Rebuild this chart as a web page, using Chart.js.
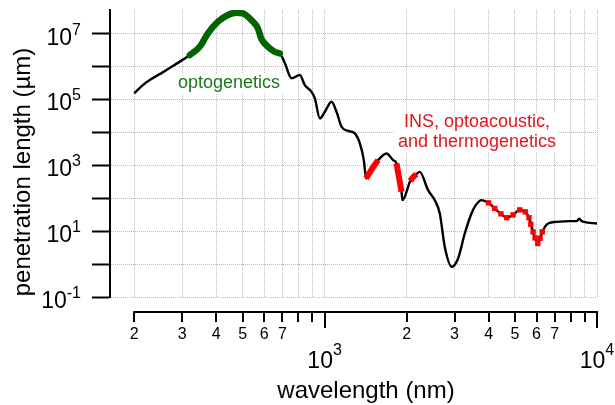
<!DOCTYPE html>
<html>
<head>
<meta charset="utf-8">
<script src="https://cdn.jsdelivr.net/npm/chart.js@4/dist/chart.umd.min.js"></script>
<style>
  html, body { margin: 0; padding: 0; background: #ffffff; }
  canvas { display: block; }
</style>
</head>
<body>
<canvas id="chart" width="615" height="405"></canvas>
<script>
// ---------------- data ----------------
const wavelengthNm = [
  200, 213, 228, 251, 281, 320, 348, 373, 406, 442, 474, 501, 538, 569, 585, 610, 655, 685,
  715, 756, 811, 846, 895, 921, 961, 1002, 1060, 1106, 1154, 1220, 1291, 1347, 1393, 1420,
  1491, 1572, 1688, 1785, 1837, 1916, 1932, 2063, 2110, 2172, 2236, 2398, 2538, 2648, 2762,
  2931, 3090, 3270, 3461, 3589, 3766, 3996, 4214, 4440, 4664, 4918, 5205, 5453, 5627, 5713,
  5825, 5925, 6061, 6180, 6295, 6612, 7099, 7943, 8427, 8605, 8790, 10000
];
const penetrationUm = [
  1.51e5, 2.51e5, 3.82e5, 6.10e5, 1.09e6, 2.19e6, 3.92e6, 1.0e7, 2.25e7, 3.60e7, 4.23e7, 4.05e7,
  2.54e7, 1.42e7, 7.05e6, 4.42e6, 2.76e6, 2.47e6, 1.23e6, 4.30e5, 5.42e5, 2.69e5, 1.69e5, 1.06e5,
  2.62e4, 4.16e4, 8.38e4, 4.16e4, 1.46e4, 1.10e4, 9.18e3, 4.57e3, 1.42e3, 398, 757, 1.42e3,
  2.27e3, 1.42e3, 1.13e3, 155, 86.7, 330, 427, 533, 627, 174, 86.7, 34.2, 3.31, 0.828, 1.47,
  8.43, 34.2, 61.1, 87.1, 71.8, 48.5, 33.3, 25.5, 31.0, 44.0, 38.3, 25.5, 16.2, 9.44, 6.21,
  4.20, 6.08, 9.44, 17.0, 19.0, 20.0, 20.0, 23.8, 20.0, 17.0
];
const optoBandNm = [320, 685];
const insBandsNm = [[1420, 1572], [1837, 1916], [2063, 2172]];
const markerBandNm = [3996, 6295];

const xGridNm = [200, 300, 400, 500, 600, 700, 800, 900, 1000, 2000, 3000, 4000, 5000, 6000, 7000, 8000, 9000, 10000];
const xDigitLabelsNm = [200, 300, 400, 500, 600, 700, 2000, 3000, 4000, 5000, 6000, 7000];
const xPowerLabelsNm = [1000, 10000];
const yGridUm = [0.1, 1, 10, 100, 1e3, 1e4, 1e5, 1e6, 1e7];
const yPowerLabelsUm = [0.1, 10, 1e3, 1e5, 1e7];
const xTitle = 'wavelength (nm)';
const yTitle = 'penetration length (µm)';
const optoText = ['optogenetics'];
const insText = ['INS, optoacoustic,', 'and thermogenetics'];

// ---------------- styling / layout ----------------
const FONT = s => s + 'px "Liberation Sans", Arial, Helvetica, sans-serif';
const GREEN_LINE = '#006400', GREEN_TEXT = '#187a18';
const RED_LINE = '#ff0000', RED_TEXT = '#e3141c';
const GRID = '#bcbcbc';
const layout = {
  optoLabel: { x: 229, y: 88, size: 18 },
  insLabel: { x: 477, y: 127, size: 18, lineGap: 19.5 },
  xAxisGap: 15
};

const pts = wavelengthNm.map((x, i) => ({ x: x, y: penetrationUm[i] }));
const inBand = b => pts.filter(p => p.x >= b[0] && p.x <= b[1]);

const datasets = [
  { data: pts, borderColor: '#000', borderWidth: 2.4, pointRadius: 0, showLine: true,
    cubicInterpolationMode: 'monotone', borderJoinStyle: 'round', order: 3 },
  { data: inBand(optoBandNm), borderColor: GREEN_LINE, borderWidth: 6.5, pointRadius: 0, showLine: true,
    cubicInterpolationMode: 'monotone', borderJoinStyle: 'round', borderCapStyle: 'round', order: 2 }
].concat(insBandsNm.map(b => ({
  data: inBand(b), borderColor: RED_LINE, borderWidth: 6, pointRadius: 0, showLine: true,
  cubicInterpolationMode: 'monotone', borderJoinStyle: 'round', order: 2
}))).concat([{
  data: inBand(markerBandNm), showLine: false, pointStyle: 'rect', pointRadius: 3.8,
  pointBackgroundColor: RED_LINE, pointBorderWidth: 0, order: 1
}]);

function drawPower(ctx, exp, x, yBase, align, supRaise) {
  const base = '10', sup = String(exp);
  ctx.font = FONT(23); const wb = ctx.measureText(base).width;
  ctx.font = FONT(16); const ws = ctx.measureText(sup).width;
  const left = align === 'right' ? x - (wb + ws) : x - (wb + ws) / 2;
  ctx.textAlign = 'left';
  ctx.textBaseline = 'alphabetic';
  ctx.font = FONT(23); ctx.fillText(base, left, yBase);
  ctx.font = FONT(16); ctx.fillText(sup, left + wb, yBase - supRaise);
}

function drawLabelBlock(ctx, lines, cx, y0, size, gap, color) {
  ctx.font = FONT(size);
  ctx.textAlign = 'center';
  ctx.textBaseline = 'alphabetic';
  const w = Math.max.apply(null, lines.map(l => ctx.measureText(l).width));
  const top = y0 - size * 0.8, bottom = y0 + (lines.length - 1) * gap + size * 0.28;
  ctx.fillStyle = '#fff';
  ctx.fillRect(cx - w / 2 - 3, top, w + 6, bottom - top);
  ctx.fillStyle = color;
  lines.forEach((l, i) => ctx.fillText(l, cx, y0 + i * gap));
}

const decor = {
  id: 'decor',
  beforeDatasetsDraw(chart) {
    const ctx = chart.ctx;
    ctx.save();
    drawLabelBlock(ctx, optoText, layout.optoLabel.x, layout.optoLabel.y, layout.optoLabel.size, 0, GREEN_TEXT);
    drawLabelBlock(ctx, insText, layout.insLabel.x, layout.insLabel.y, layout.insLabel.size, layout.insLabel.lineGap, RED_TEXT);
    ctx.restore();
  },
  afterDraw(chart) {
    const ctx = chart.ctx, xs = chart.scales.x, ys = chart.scales.y, area = chart.chartArea;
    ctx.save();
    ctx.strokeStyle = '#000';
    ctx.fillStyle = '#000';
    // detached x axis
    const ay = Math.round(area.bottom + layout.xAxisGap);
    const xa = xs.getPixelForValue(xGridNm[0]), xb = xs.getPixelForValue(xGridNm[xGridNm.length - 1]);
    ctx.lineWidth = 2;
    ctx.beginPath();
    ctx.moveTo(xa - 1, ay); ctx.lineTo(xb + 1, ay);
    xGridNm.forEach(v => {
      const px = Math.round(xs.getPixelForValue(v));
      const major = Math.abs(Math.log10(v) - Math.round(Math.log10(v))) < 1e-9;
      ctx.moveTo(px, ay); ctx.lineTo(px, ay + (major ? 16 : 10));
    });
    ctx.stroke();
    // x digit labels
    ctx.font = FONT(16);
    ctx.textAlign = 'center';
    ctx.textBaseline = 'alphabetic';
    xDigitLabelsNm.forEach(v => {
      const d = Math.round(v / Math.pow(10, Math.floor(Math.log10(v) + 1e-9)));
      ctx.fillText(String(d), xs.getPixelForValue(v), ay + 27);
    });
    xPowerLabelsNm.forEach(v => {
      drawPower(ctx, Math.round(Math.log10(v)), xs.getPixelForValue(v), ay + 56, 'center', 13);
    });
    // y labels
    yPowerLabelsUm.forEach(v => {
      const py = ys.getPixelForValue(v);
      drawPower(ctx, Math.round(Math.log10(v)), 81, py + 11.2, 'right', 10);
    });
    // titles
    ctx.font = FONT(24);
    ctx.textAlign = 'center';
    ctx.textBaseline = 'alphabetic';
    ctx.fillText(xTitle, 366, 398);
    ctx.translate(30, 172);
    ctx.rotate(-Math.PI / 2);
    ctx.fillText(yTitle, 0, 0);
    ctx.restore();
  }
};

new Chart(document.getElementById('chart'), {
  type: 'scatter',
  data: { datasets: datasets },
  options: {
    responsive: false,
    animation: false,
    devicePixelRatio: 1,
    layout: { padding: { left: 0, top: 10, right: 18, bottom: 0 } },
    plugins: { legend: { display: false }, tooltip: { enabled: false } },
    scales: {
      x: {
        type: 'logarithmic', min: 163, max: 10000,
        afterBuildTicks: s => { s.ticks = xGridNm.map(v => ({ value: v })); },
        afterFit: s => { s.height = 108; },
        ticks: { display: false },
        grid: { color: GRID, lineWidth: 1, drawTicks: false },
        border: { display: false, dash: [1, 1] }
      },
      y: {
        type: 'logarithmic', min: 0.1, max: 5.1e7,
        afterBuildTicks: s => { s.ticks = yGridUm.map(v => ({ value: v })); },
        afterFit: s => { s.width = 110; },
        ticks: { display: false },
        grid: { color: GRID, lineWidth: 1, drawTicks: true, tickLength: 18, tickWidth: 2, tickColor: '#000' },
        border: { display: true, color: '#000', width: 2, dash: [1, 1] }
      }
    }
  },
  plugins: [decor]
});
</script>
</body>
</html>
